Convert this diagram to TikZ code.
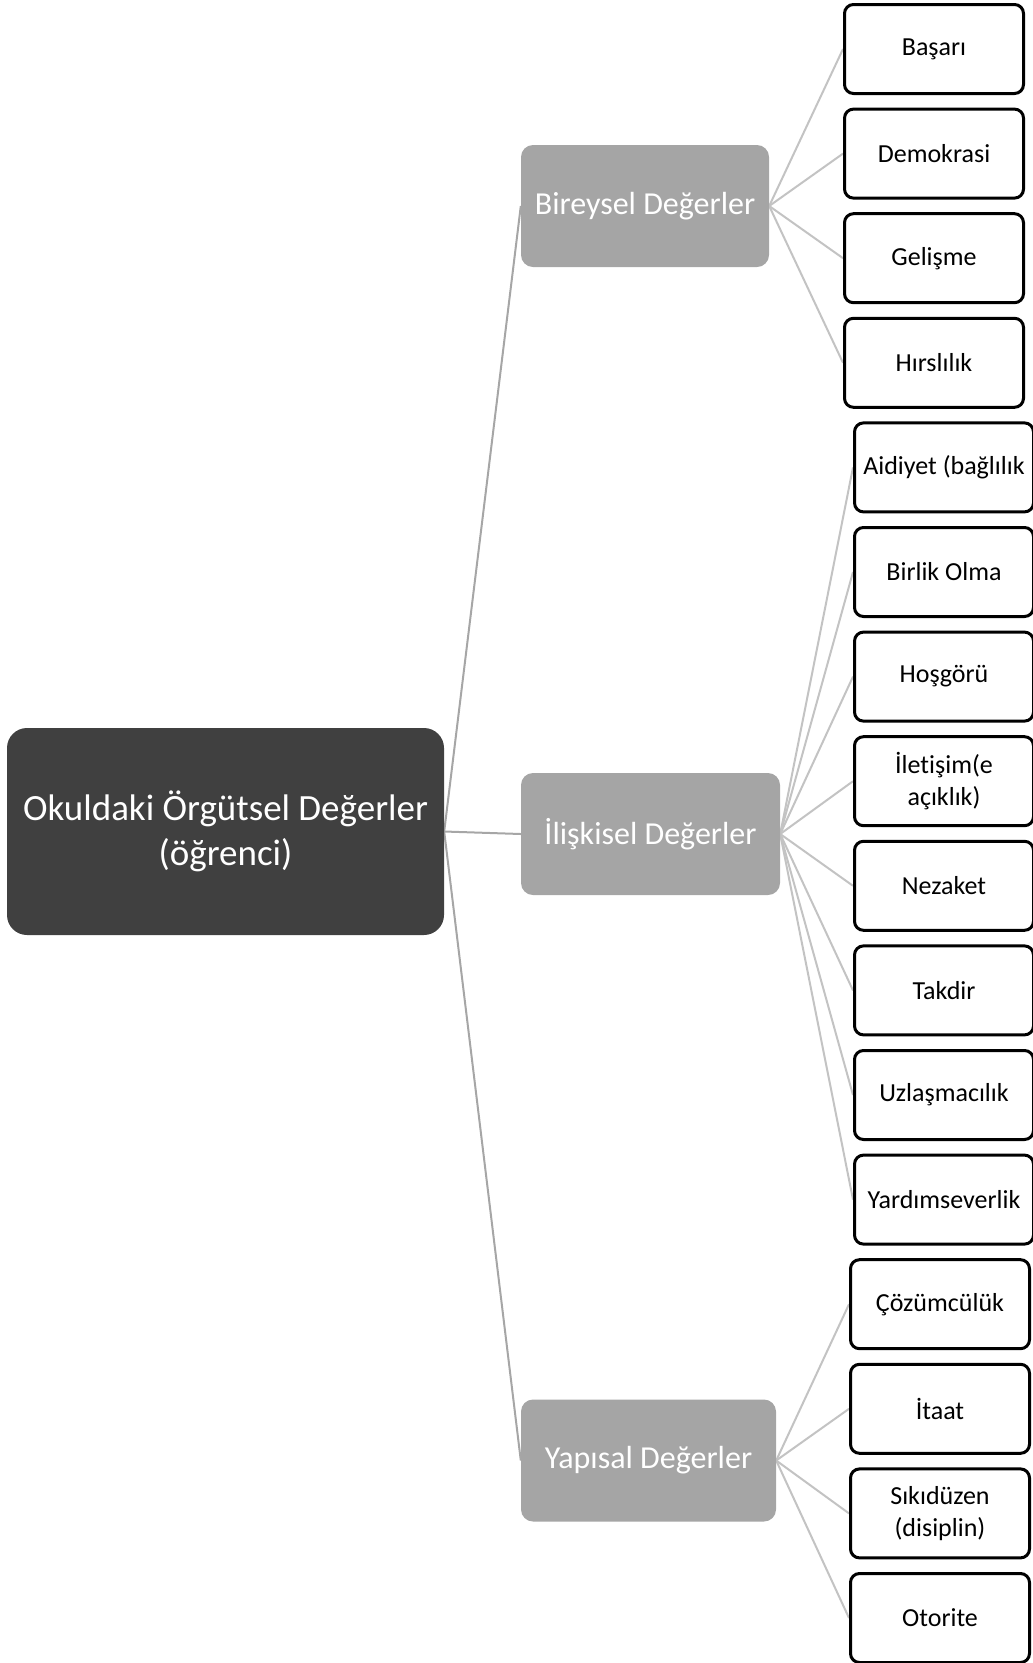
\documentclass[tikz,border=0pt]{standalone}
\usepackage{fontspec}
\setmainfont{Carlito}[Ligatures={NoCommon}]
\usetikzlibrary{backgrounds}
\definecolor{maingray}{HTML}{404040}
\definecolor{midgray}{HTML}{A5A5A5}
\definecolor{lineA}{HTML}{A6A6A6}
\definecolor{lineB}{HTML}{C3C3C3}
\tikzset{
  mainbox/.style={rectangle, rounded corners=20pt, fill=maingray, draw=none, text=white, inner sep=0pt,
    minimum width=437pt, minimum height=207pt, align=center, font=\fontsize{37}{45}\selectfont},
  midbox/.style={rectangle, rounded corners=12pt, fill=midgray, draw=none, text=white, inner sep=0pt,
    minimum height=122pt, align=center, font=\fontsize{32}{39}\selectfont},
  leafbox/.style={rectangle, rounded corners=9pt, fill=white, draw=black, line width=3pt, inner sep=0pt,
    minimum width=179pt, minimum height=89pt, align=center, font=\fontsize{26}{31.5}\selectfont},
  connA/.style={draw=lineA, line width=2pt},
  connB/.style={draw=lineB, line width=2pt}
}
\begin{document}
\begin{tikzpicture}[x=1pt,y=-1pt]
\useasboundingbox (0,0) rectangle (1033,1663);
\clip (0,0) rectangle (1033,1663);

\node[mainbox] (main) at (225.5,831.5) {Okuldaki Örgütsel Değerler\\(öğrenci)};

\node[midbox, minimum width=248pt] (bir) at (645,206) {Bireysel Değerler};
\node[midbox, minimum width=259pt] (ili) at (650.5,834) {İlişkisel Değerler};
\node[midbox, minimum width=255pt] (yap) at (648.5,1460.5) {Yapısal Değerler};

\node[leafbox] (l0) at (934,49) {Başarı};
\node[leafbox] (l1) at (934,153.6) {Demokrasi};
\node[leafbox] (l2) at (934,258.2) {Gelişme};
\node[leafbox] (l3) at (934,362.8) {Hırslılık};

\node[leafbox] (l4) at (944,467.4) {Aidiyet (bağlılık};
\node[leafbox] (l5) at (944,572) {Birlik Olma};
\node[leafbox] (l6) at (944,676.6) {Hoşgörü};
\node[leafbox] (l7) at (944,781.2) {İletişim(e\\açıklık)};
\node[leafbox] (l8) at (944,885.8) {Nezaket};
\node[leafbox] (l9) at (944,990.4) {Takdir};
\node[leafbox] (l10) at (944,1095) {Uzlaşmacılık};
\node[leafbox] (l11) at (944,1199.6) {Yardımseverlik};

\node[leafbox] (l12) at (940,1304.2) {Çözümcülük};
\node[leafbox] (l13) at (940,1408.8) {İtaat};
\node[leafbox] (l14) at (940,1513.4) {Sıkıdüzen\\(disiplin)};
\node[leafbox] (l15) at (940,1618) {Otorite};

\begin{scope}[on background layer]
\draw[connA] (main.east) -- (bir.west);
\draw[connA] (main.east) -- (ili.west);
\draw[connA] (main.east) -- (yap.west);
\foreach \i in {0,1,2,3} \draw[connB] (bir.east) -- (l\i.west);
\foreach \i in {4,5,6,7,8,9,10,11} \draw[connB] (ili.east) -- (l\i.west);
\foreach \i in {12,13,14,15} \draw[connB] (yap.east) -- (l\i.west);
\end{scope}
\end{tikzpicture}
\end{document}
